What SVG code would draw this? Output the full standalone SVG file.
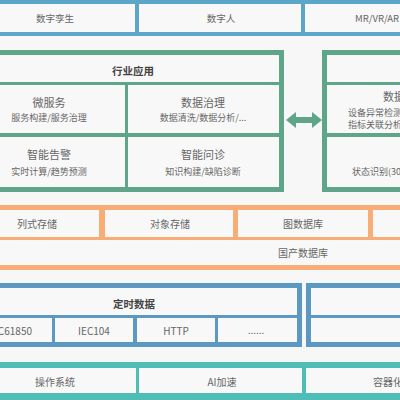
<svg xmlns="http://www.w3.org/2000/svg" width="400" height="400" viewBox="0 0 400 400">
<style>
text{font-family:"Noto Sans CJK SC","Noto Sans",sans-serif;fill:#666;font-size:10px;dominant-baseline:central}
.c{text-anchor:middle}
.s{text-anchor:start}
.e{text-anchor:end}
.h{font-weight:bold;fill:#444;font-size:10.5px}
.t{font-size:11px}
.sub{font-size:9px}
.cell{fill:#f8f8f8}
</style>
<rect x="0" y="0" width="400" height="400" fill="#f7f7f7"/>

<g id="top-band">
<rect x="0" y="0" width="400" height="36" fill="#5ba6c9"/>
<g id="n-twin"><rect class="cell" x="-10" y="4" width="145" height="28"/><text class="c" x="55" y="18" style="font-size:9.5px">数字孪生</text></g>
<g id="n-human"><rect class="cell" x="139" y="4" width="162" height="28"/><text class="c" x="221" y="18" style="font-size:9.5px">数字人</text></g>
<g id="n-mr"><rect class="cell" x="305" y="4" width="110" height="28"/><text class="s" x="355" y="18" style="font-size:9.5px">MR/VR/AR</text></g>
</g>

<g id="industry">
<rect x="-10" y="50" width="294" height="142" fill="#5fa58a"/>
<rect class="cell" x="-10" y="55" width="289" height="27"/>
<text class="c h" x="133" y="70">行业应用</text>
<g id="n-micro"><rect class="cell" x="-10" y="85" width="135" height="48"/><text class="c t" x="49" y="102">微服务</text><text class="c sub" x="49" y="117">服务构建/服务治理</text></g>
<g id="n-govern"><rect class="cell" x="128" y="85" width="151" height="48"/><text class="c t" x="203" y="102">数据治理</text><text class="c sub" x="203" y="117">数据清洗/数据分析/...</text></g>
<g id="n-alarm"><rect class="cell" x="-10" y="137" width="135" height="50"/><text class="c t" x="49" y="154">智能告警</text><text class="c sub" x="49" y="171">实时计算/趋势预测</text></g>
<g id="n-diag"><rect class="cell" x="128" y="137" width="151" height="50"/><text class="c t" x="203" y="154">智能问诊</text><text class="c sub" x="203" y="171">知识构建/缺陷诊断</text></g>
</g>

<g id="data-box">
<rect x="322" y="50" width="100" height="142" fill="#5fa58a"/>
<rect class="cell" x="327" y="55" width="95" height="27"/>
<g id="n-data"><rect class="cell" x="327" y="85" width="95" height="48"/><text class="s t" x="383" y="96">数据</text><text class="s sub" x="348" y="112">设备异常检测</text><text class="s sub" x="348" y="124">指标关联分析</text></g>
<g id="n-state"><rect class="cell" x="327" y="137" width="95" height="50"/><text class="s sub" x="352" y="171">状态识别(30</text></g>
</g>

<g id="connectors">
<polygon fill="#5fa58a" points="286,120 296,112 296,117 312,117 312,112 322,120 312,128 312,123 296,123 296,128"/>
</g>

<g id="storage">
<rect x="-10" y="205" width="420" height="65" fill="#f7ad75"/>
<g id="n-col"><rect class="cell" x="-10" y="210" width="109" height="27"/><text class="c" x="37" y="223">列式存储</text></g>
<g id="n-obj"><rect class="cell" x="105" y="210" width="128" height="27"/><text class="c" x="170" y="223">对象存储</text></g>
<g id="n-graph"><rect class="cell" x="238" y="210" width="130" height="27"/><text class="c" x="303" y="223">图数据库</text></g>
<g id="n-other"><rect class="cell" x="373" y="210" width="40" height="27"/></g>
<g id="n-domestic"><rect class="cell" x="-10" y="240" width="420" height="25"/><text class="c" x="303" y="252">国产数据库</text></g>
</g>

<g id="timed">
<rect x="-10" y="283" width="312" height="64" fill="#5b99c2"/>
<rect class="cell" x="-10" y="288" width="307" height="27"/>
<text class="c h" x="134" y="303">定时数据</text>
<g id="n-61850"><rect class="cell" x="-10" y="318" width="62" height="24"/><text class="e" x="32" y="330">IEC61850</text></g>
<g id="n-104"><rect class="cell" x="55" y="318" width="78" height="24"/><text class="c" x="94" y="330">IEC104</text></g>
<g id="n-http"><rect class="cell" x="137" y="318" width="78" height="24"/><text class="c" x="176" y="330">HTTP</text></g>
<g id="n-more"><rect class="cell" x="218" y="318" width="79" height="24"/><text class="c" x="256" y="329">......</text></g>
</g>

<g id="timed2">
<rect x="306" y="283" width="110" height="64" fill="#5b99c2"/>
<rect class="cell" x="311" y="288" width="100" height="27"/>
<rect class="cell" x="311" y="318" width="100" height="24"/>
</g>

<g id="base">
<rect x="-10" y="362" width="420" height="40" fill="#4dbdb6"/>
<g id="n-os"><rect class="cell" x="-10" y="368" width="146" height="25"/><text class="c" x="55" y="381">操作系统</text></g>
<g id="n-ai"><rect class="cell" x="139" y="368" width="163" height="25"/><text class="c" x="222" y="381">AI加速</text></g>
<g id="n-container"><rect class="cell" x="306" y="368" width="110" height="25"/><text class="s" x="373" y="381">容器化</text></g>
</g>
</svg>
